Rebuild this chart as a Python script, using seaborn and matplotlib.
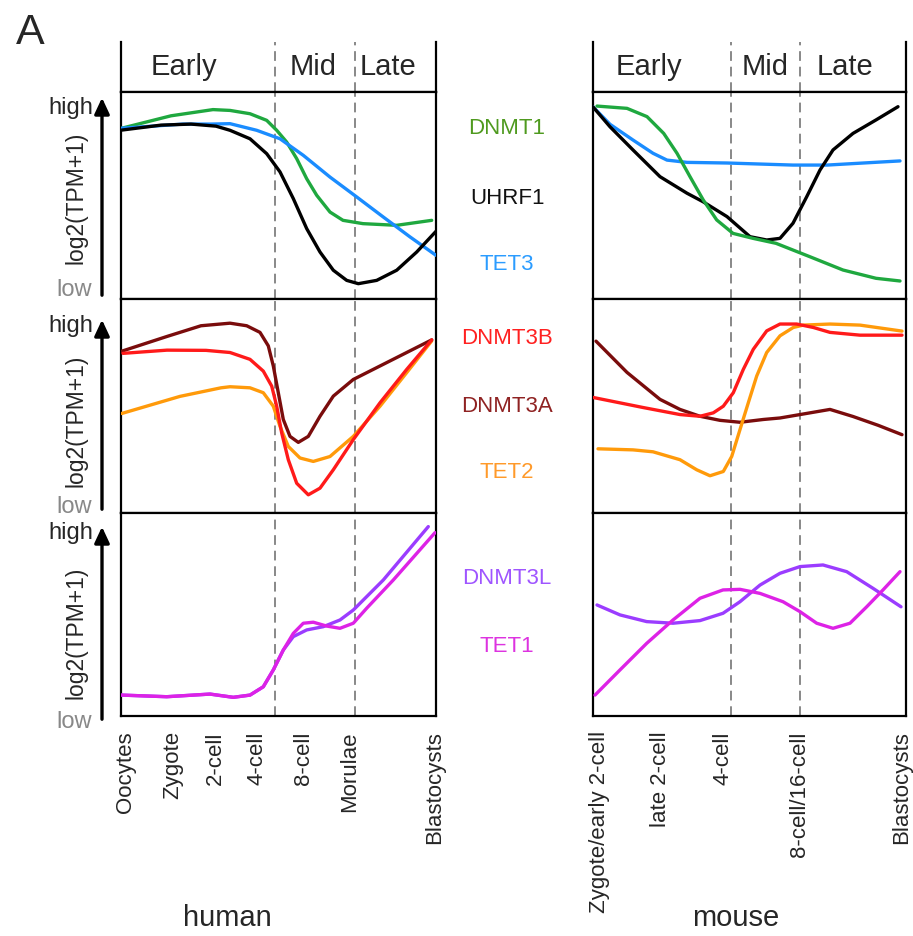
import matplotlib
matplotlib.use("Agg")
import matplotlib.pyplot as plt
import seaborn as sns

# ---- data (x = position along development axis, y = relative expression 0-100) ----
human_stages = ["Oocytes", "Zygote", "2-cell", "4-cell", "8-cell", "Morulae", "Blastocysts"]
human_stage_pos = [4, 52, 94, 136, 182, 229, 314]
human_bounds = [154, 234]
human_phase_pos = [63, 192, 267]

mouse_stages = ["Zygote/early 2-cell", "late 2-cell", "4-cell", "8-cell/16-cell", "Blastocysts"]
mouse_stage_pos = [7, 67, 130, 207, 309]
mouse_bounds = [138, 207]
mouse_phase_pos = [56, 172, 252]

phases = ["Early", "Mid", "Late"]

# human, panel 1
h_dnmt1_x = [0.7, 50, 92, 109, 129, 145.7, 155.7, 165.7, 175.7, 185.7, 195.7, 209, 222, 242, 275.7, 310.7]
h_dnmt1_y = [82.5, 88.5, 91.5, 91.1, 89.5, 86.3, 81.5, 75.8, 67.8, 58.1, 50.1, 42.0, 38.0, 36.4, 35.6, 38.0]
h_tet3_x = [0.7, 62, 90, 109, 135.7, 159, 182.3, 209, 235.7, 262.3, 289, 315]
h_tet3_y = [82.5, 84.5, 84.5, 84.7, 81.5, 77.4, 69.4, 58.9, 49.3, 39.6, 30.0, 21.1]
h_uhrf1_x = [0.7, 40, 70, 95, 109, 129, 145.7, 159, 172.3, 185.7, 199, 212.3, 225.7, 237.3,
             255.7, 275.7, 295.7, 315]
h_uhrf1_y = [81.6, 84.0, 84.5, 83.5, 81.5, 77.4, 70.2, 61.4, 48.5, 34.0, 22.7, 13.9, 9.0, 7.4,
             9.0, 13.9, 22.7, 32.7]

# human, panel 2
h_dnmt3a_x = [0.7, 46, 80, 109, 125.7, 139, 147.3, 152.3, 157.3, 162.3, 169, 177.3, 187.3, 199,
              212.3, 232.3, 259, 285.7, 310.7]
h_dnmt3a_y = [75.6, 82.5, 87.5, 88.7, 87.5, 84.4, 78.1, 68.7, 56.2, 43.7, 35.8, 33.0, 35.8, 45.2,
              54.6, 62.4, 68.7, 75.0, 80.9]
h_dnmt3b_x = [2, 46, 85, 109, 129, 142.3, 150.7, 155.7, 160.7, 167.3, 175.7, 187.3, 199, 212.3,
              232.3, 259, 285.7, 310.7]
h_dnmt3b_y = [74.6, 76.1, 76.0, 75.0, 71.8, 66.3, 59.3, 49.9, 37.4, 24.9, 13.9, 8.5, 11.6, 20.2,
              34.3, 51.5, 67.1, 80.9]
h_tet2_x = [0.7, 59, 100, 109, 129, 142.3, 152.3, 159, 167.3, 179, 192.3, 209, 232.3, 259, 285.7, 310.7]
h_tet2_y = [46.5, 54.5, 58.5, 59.0, 58.5, 56.2, 49.9, 40.5, 31.1, 25.7, 24.1, 26.4, 35.8, 49.9, 65.6, 80.4]

# human, panel 3
h_dnmt3l_x = [0.7, 45.7, 89, 112.3, 129, 142.3, 152.3, 162.3, 172.3, 185.7, 202.3, 219, 232.3, 262.3, 307.3]
h_dnmt3l_y = [10.3, 9.5, 10.8, 9.2, 10.3, 14.4, 22.7, 32.5, 39.1, 42.4, 44.0, 47.3, 52.2, 67.0, 93.3]
h_tet1_x = [0.7, 45.7, 89, 112.3, 129, 142.3, 152.3, 162.3, 172.3, 182.3, 192.3, 205.7, 219, 232.3,
            245.7, 272.3, 314]
h_tet1_y = [10.3, 9.5, 10.8, 9.2, 10.3, 14.4, 22.7, 32.5, 40.7, 45.7, 46.2, 44.3, 43.2, 45.7,
            53.1, 67.0, 90.3]

# mouse, panel 1
m_uhrf1_x = [0, 17, 40, 67, 94, 110, 134, 157, 173.7, 187, 200, 213.7, 227, 240, 260, 283, 305]
m_uhrf1_y = [92.8, 83.2, 72.0, 59.1, 51.1, 47.0, 39.8, 30.1, 28.5, 29.3, 36.6, 49.4, 62.3, 72.0,
             80.0, 86.5, 92.9]
m_tet3_x = [0, 17, 40, 60, 74, 94, 134, 200, 234, 307]
m_tet3_y = [92.8, 84.4, 76.8, 70.4, 67.1, 66.0, 65.7, 64.7, 64.7, 66.7]
m_dnmt1_x = [4, 34, 54, 70.7, 84, 97, 110.3, 123.7, 140, 160, 183, 217, 250, 283, 307]
m_dnmt1_y = [93.2, 92.1, 88.1, 80.0, 70.4, 59.1, 47.8, 38.2, 31.7, 29.3, 26.9, 20.4, 14.0, 10.0, 8.7]

# mouse, panel 2
m_dnmt3a_x = [3, 34, 67, 87, 107, 127, 147, 170.3, 187, 207, 227, 237, 260, 285, 309]
m_dnmt3a_y = [80.3, 65.7, 53.1, 48.4, 45.2, 43.3, 42.4, 43.7, 44.4, 46.0, 47.6, 48.4, 45.1, 41.0, 36.6]
m_dnmt3b_x = [0, 50, 87, 107, 120.3, 130.3, 140.3, 150.3, 160.3, 173.7, 187, 203.7, 220.3, 237, 267, 309]
m_dnmt3b_y = [54.0, 49.3, 46.0, 45.2, 46.8, 49.9, 56.2, 67.1, 76.5, 85.1, 88.3, 88.3, 86.7, 84.4, 83.1, 83.1]
m_tet2_x = [5, 40, 60, 87, 103.7, 117, 130.3, 138.7, 147, 155.3, 163.7, 173.7, 187, 200.3, 210.3,
            237, 267, 309]
m_tet2_y = [30.0, 29.5, 28.6, 24.9, 20.2, 17.4, 19.4, 26.4, 39.0, 51.5, 64.0, 75.0, 82.8, 86.7, 87.8,
            88.3, 87.8, 85.0]

# mouse, panel 3
m_dnmt3l_x = [4, 27, 53.7, 80, 107, 130, 147, 167, 187, 207, 230, 253.7, 280, 308]
m_dnmt3l_y = [54.7, 49.8, 46.5, 45.7, 47.0, 50.6, 56.3, 64.5, 70.3, 73.6, 74.4, 71.1, 62.9, 53.8]
m_tet1_x = [2, 27, 53.7, 80, 107, 130, 147, 167, 190, 207, 223.7, 240, 257, 273.7, 290, 307]
m_tet1_y = [10.3, 22.7, 35.8, 47.3, 58.0, 62.1, 62.4, 60.4, 56.3, 51.4, 45.7, 43.2, 45.7, 53.8, 62.1, 71.1]

line_colors = {
    "DNMT1": "#1fa83f", "UHRF1": "#000000", "TET3": "#1a8cff",
    "DNMT3B": "#ff1a1a", "DNMT3A": "#7a0c0c", "TET2": "#ff9a0a",
    "DNMT3L": "#9b3cff", "TET1": "#dd22e6",
}
label_colors = {
    "DNMT1": "#4f9a1f", "UHRF1": "#111111", "TET3": "#2b9cff",
    "DNMT3B": "#ff2020", "DNMT3A": "#8f2222", "TET2": "#ff9a2a",
    "DNMT3L": "#9f55ff", "TET1": "#dd33e0",
}

human_panels = [
    [("DNMT1", h_dnmt1_x, h_dnmt1_y), ("TET3", h_tet3_x, h_tet3_y), ("UHRF1", h_uhrf1_x, h_uhrf1_y)],
    [("TET2", h_tet2_x, h_tet2_y), ("DNMT3A", h_dnmt3a_x, h_dnmt3a_y), ("DNMT3B", h_dnmt3b_x, h_dnmt3b_y)],
    [("DNMT3L", h_dnmt3l_x, h_dnmt3l_y), ("TET1", h_tet1_x, h_tet1_y)],
]
mouse_panels = [
    [("TET3", m_tet3_x, m_tet3_y), ("UHRF1", m_uhrf1_x, m_uhrf1_y), ("DNMT1", m_dnmt1_x, m_dnmt1_y)],
    [("DNMT3A", m_dnmt3a_x, m_dnmt3a_y), ("TET2", m_tet2_x, m_tet2_y), ("DNMT3B", m_dnmt3b_x, m_dnmt3b_y)],
    [("DNMT3L", m_dnmt3l_x, m_dnmt3l_y), ("TET1", m_tet1_x, m_tet1_y)],
]
gene_labels = [("DNMT1", 128), ("UHRF1", 198), ("TET3", 264),
               ("DNMT3B", 338), ("DNMT3A", 407), ("TET2", 473),
               ("DNMT3L", 578), ("TET1", 647)]

W, H = 913, 936
sns.set_style("white")
plt.rcParams["font.family"] = ["Liberation Sans", "DejaVu Sans"]

fig = plt.figure(figsize=(W / 100, H / 100), dpi=100)


def box(x0, y0, x1, y1):
    """pixel box (top-left origin) -> figure fraction rect"""
    return [x0 / W, 1 - y1 / H, (x1 - x0) / W, (y1 - y0) / H]


rows = [(42, 92), (92, 299), (299, 513), (513, 716)]


def draw_species(x0, x1, panels, bounds, phase_pos, stage_pos, stages, name, name_x):
    width = x1 - x0
    axes = []
    for top, bot in rows:
        ax = fig.add_axes(box(x0, top, x1, bot))
        for s in ax.spines.values():
            s.set_color("black")
            s.set_linewidth(1.6)
        for b in bounds:
            ax.axvline(b, color="#888888", lw=1.4, ls=(0, (5, 3)), zorder=1)
        axes.append(ax)

    head = axes[0]
    head.spines["top"].set_visible(False)
    for xp, txt in zip(phase_pos, phases):
        head.text(xp, 50, txt, ha="center", va="center", fontsize=21)

    for ax, genes in zip(axes[1:], panels):
        for gene, xs, ys in genes:
            sns.lineplot(x=xs, y=ys, ax=ax, color=line_colors[gene], lw=2.4, zorder=3,
                         solid_joinstyle="round", solid_capstyle="round")

    for ax in axes:
        ax.set_xlim(0, width)
        ax.set_ylim(0, 100)
        ax.set_xticks([])
        ax.set_yticks([])
        ax.set_xlabel("")
        ax.set_ylabel("")

    last = axes[-1]
    last.set_xticks(stage_pos)
    last.set_xticklabels(stages, rotation=90, fontsize=16, va="top")
    last.tick_params(axis="x", length=0, pad=11)
    fig.text(name_x / W, 1 - 918 / H, name, ha="center", va="center", fontsize=21)
    return axes


draw_species(121, 436, human_panels, human_bounds, human_phase_pos,
             human_stage_pos, human_stages, "human", 227)
draw_species(593, 906, mouse_panels, mouse_bounds, mouse_phase_pos,
             mouse_stage_pos, mouse_stages, "mouse", 736)

# y-axis annotations on the human side
high_y = [108, 326, 533]
low_y = [290, 507, 722]
ylab_y = [198, 421, 633]
arrow_top = [95, 317, 524]
arrow_bot = [298, 512, 722]
for k in range(3):
    fig.text(93 / W, 1 - high_y[k] / H, "high", ha="right", va="center", fontsize=17)
    fig.text(92 / W, 1 - low_y[k] / H, "low", ha="right", va="center", fontsize=17, color="#888888")
    fig.text(76 / W, 1 - ylab_y[k] / H, "log2(TPM+1)", ha="center", va="center",
             rotation=90, fontsize=16.5)
    fig.add_artist(matplotlib.patches.FancyArrowPatch(
        (102 / W, 1 - arrow_bot[k] / H), (102 / W, 1 - arrow_top[k] / H),
        transform=fig.transFigure, arrowstyle="-|>,head_length=6,head_width=2.8",
        color="black", lw=2.4, mutation_scale=1.6))

for gene, y in gene_labels:
    fig.text(507 / W, 1 - y / H, gene, ha="center", va="center", fontsize=16, color=label_colors[gene])

fig.text(30 / W, 1 - 33 / H, "A", ha="center", va="center", fontsize=31)

fig.savefig("out.png", dpi=100)
